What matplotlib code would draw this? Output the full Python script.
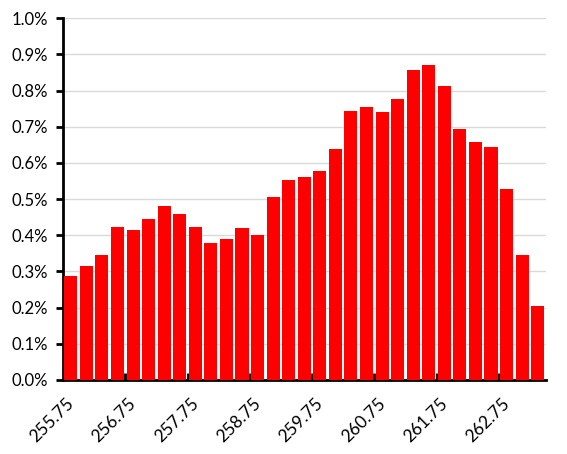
import matplotlib
matplotlib.use("Agg")
import matplotlib.pyplot as plt
import matplotlib.transforms as mtrans
import numpy as np
from matplotlib.ticker import FixedLocator, FuncFormatter

plt.rcParams['font.family'] = ['Lato', 'DejaVu Sans']

categories = [255.75 + 0.25 * i for i in range(31)]
values = [0.288, 0.316, 0.346, 0.424, 0.416, 0.446, 0.482, 0.460, 0.424, 0.380,
          0.391, 0.421, 0.402, 0.507, 0.554, 0.562, 0.579, 0.640, 0.745, 0.756,
          0.740, 0.776, 0.856, 0.870, 0.812, 0.695, 0.659, 0.643, 0.529, 0.346,
          0.205]
labels = ["%.2f" % c for c in categories]

fig = plt.figure(figsize=(5.67, 4.54), dpi=100)
ax = fig.add_axes([63/567, (454-380)/454, (545.5-63)/567, (380-18.3)/454])

x = np.arange(len(categories))
ax.bar(x, values, width=0.84, color='#ff0000', zorder=3)

ax.set_xlim(-0.5, len(categories) - 0.5)
ax.set_ylim(0, 1.0)
ax.set_yticks(np.arange(0, 1.01, 0.1))
ax.yaxis.set_major_formatter(FuncFormatter(lambda v, p: "%.1f%%" % v))
ax.grid(axis='y', color='#d9d9d9', linewidth=1, zorder=0)

# x labels every 4 categories, ticks at boundaries
ax.set_xticks(x[::4])
ax.set_xticklabels(labels[::4], rotation=45, ha='right', va='top', rotation_mode='anchor')
ax.tick_params(axis='x', length=0, pad=11, labelsize=12.5)
offset = mtrans.ScaledTranslation(-5/100, 0, fig.dpi_scale_trans)
for lab in ax.get_xticklabels():
    lab.set_transform(lab.get_transform() + offset)
ax.xaxis.set_minor_locator(FixedLocator([-0.5 + 4 * k for k in range(1, 8)]))
ax.tick_params(axis='x', which='minor', direction='in', length=5, width=2, color='black')
ax.tick_params(axis='y', direction='out', length=5, width=2, labelsize=12, pad=6)

for s in ['top', 'right']:
    ax.spines[s].set_visible(False)
ax.spines['left'].set_linewidth(2)
ax.spines['bottom'].set_linewidth(2)

fig.savefig('out.png', dpi=100)
